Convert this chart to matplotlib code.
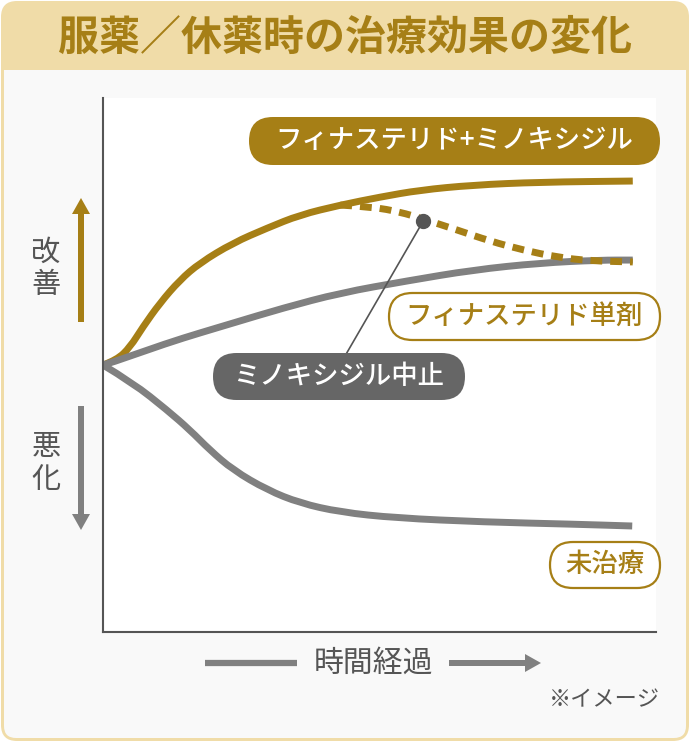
import matplotlib.pyplot as plt
import numpy as np
from matplotlib.patches import FancyBboxPatch, FancyArrow, Rectangle, PathPatch
from matplotlib.path import Path

plt.rcParams['font.family'] = ['Noto Sans CJK JP', 'DejaVu Sans']

GOLD = '#A67F16'
GRAY = '#808080'
DARK = '#666666'
INK = '#555555'
TAN = '#F0DCA8'
PANEL = '#F9F9F9'

# time runs 0..100, effect runs -100..100 (0 = starting condition)
combo_t = [0, 2.5, 4.9, 7.2, 10.3, 13.9, 17.5, 23.5, 29.7, 35.6, 42.9, 50.1,
           57.3, 66.9, 79.0, 95.8]
combo_e = [0, 1.9, 6.7, 14.2, 23.2, 31.8, 38.2, 45.7, 51.3, 56.2, 59.9, 62.9,
           65.5, 67.4, 68.5, 68.9]

stop_t = [42.9, 48.8, 53.7, 57.9, 64.0, 70.0, 75.9, 82.1, 88.1, 95.8]
stop_e = [59.9, 59.2, 57.3, 54.7, 50.6, 46.4, 43.1, 40.4, 39.0, 38.6]

fina_t = [0, 1.3, 11.6, 17.5, 23.5, 32.5, 42.9, 55.0, 66.9, 79.0, 89.9, 95.8]
fina_e = [0, 0.7, 8.2, 12.0, 15.7, 21.3, 27.0, 31.5, 35.6, 38.2, 39.3, 39.3]

none_t = [0, 5.4, 11.6, 15.7, 19.3, 23.5, 29.7, 35.6, 42.9, 53.0, 68.9, 84.8, 95.7]
none_e = [0, -6.7, -16.9, -24.3, -31.8, -39.3, -46.8, -51.7, -55.1, -57.3,
          -58.8, -59.6, -60.3]

stop_mark = (57.9, 53.9)

title = "服薬／休薬時の治療効果の変化"
label_combo = "フィナステリド+ミノキシジル"
label_fina = "フィナステリド単剤"
label_stop = "ミノキシジル中止"
label_none = "未治療"
label_up = "改善"
label_down = "悪化"
label_time = "時間経過"
note = "※イメージ"


def smooth_path(t, e):
    # quadratic bezier through midpoints so the read points draw as a smooth curve
    p = np.column_stack([t, e])
    verts = [p[0]]
    codes = [Path.MOVETO]
    for i in range(1, len(p) - 1):
        verts += [p[i], (p[i] + p[i + 1]) / 2]
        codes += [Path.CURVE3, Path.CURVE3]
    verts.append(p[-1])
    codes.append(Path.LINETO)
    return Path(verts, codes)


fig = plt.figure(figsize=(6.9, 7.42), dpi=100)
fig.patch.set_facecolor('white')

# background layer in pixel coords
bg = fig.add_axes([0, 0, 1, 1])
bg.set_xlim(0, 690)
bg.set_ylim(742, 0)
bg.axis('off')

bg.add_patch(FancyBboxPatch((1, 1), 688, 740, boxstyle="round,pad=0,rounding_size=16",
                            fc=TAN, ec='none'))
bg.add_patch(FancyBboxPatch((4, 70), 682, 668, boxstyle="round,pad=0,rounding_size=12",
                            fc=PANEL, ec='none'))
bg.add_patch(Rectangle((4, 70), 682, 30, fc=PANEL, ec='none'))
bg.text(345, 38, title, color=GOLD, fontsize=29.5, fontweight='bold',
        ha='center', va='center')

# y-axis meaning arrows
bg.add_patch(FancyArrow(81, 322, 0, -124, width=6, head_width=18, head_length=16,
                        length_includes_head=True, color=GOLD, lw=0))
bg.add_patch(FancyArrow(81, 406, 0, 124, width=6, head_width=18, head_length=16,
                        length_includes_head=True, color=GRAY, lw=0))
for i, ch in enumerate(label_up):
    bg.text(46, 253 + i * 32, ch, color=INK, fontsize=21, ha='center', va='center')
for i, ch in enumerate(label_down):
    bg.text(46, 447 + i * 33, ch, color=INK, fontsize=21, ha='center', va='center')

# time arrow
bg.plot([205, 297], [663, 663], color=GRAY, lw=4.5, solid_capstyle='butt')
bg.add_patch(FancyArrow(449, 663, 92, 0, width=6, head_width=18, head_length=16,
                        length_includes_head=True, color=GRAY, lw=0))
bg.text(373, 663, label_time, color=INK, fontsize=21.5, ha='center', va='center')
bg.text(660, 700, note, color=INK, fontsize=16, ha='right', va='center')

# plot area
ax = fig.add_axes([103 / 690, (742 - 632) / 742, 553 / 690, 534 / 742])
ax.set_facecolor('white')
ax.set_xlim(0, 100)
ax.set_ylim(-100, 100)
ax.set_xticks([])
ax.set_yticks([])
for s in ['top', 'right']:
    ax.spines[s].set_visible(False)
for s in ['left', 'bottom']:
    ax.spines[s].set_color(INK)
    ax.spines[s].set_linewidth(1.5)
    ax.spines[s].set_zorder(6)

LW = 5.0
ax.add_patch(PathPatch(smooth_path(combo_t, combo_e), fill=False, ec=GOLD, lw=LW,
                       capstyle='butt', joinstyle='round', zorder=2))
ax.add_patch(PathPatch(smooth_path(none_t, none_e), fill=False, ec=GRAY, lw=LW,
                       capstyle='butt', joinstyle='round', zorder=3))
ax.add_patch(PathPatch(smooth_path(fina_t, fina_e), fill=False, ec=GRAY, lw=LW,
                       capstyle='butt', joinstyle='round', zorder=3))
ax.add_patch(PathPatch(smooth_path(stop_t, stop_e), fill=False, ec=GOLD, lw=LW,
                       linestyle=(0, (1.7, 1.15)), capstyle='butt', zorder=4))

# overlay for labels
top = fig.add_axes([0, 0, 1, 1])
top.set_xlim(0, 690)
top.set_ylim(742, 0)
top.axis('off')
top.patch.set_alpha(0)

ax.annotate('', xy=stop_mark, xycoords='data', xytext=(345, 356), textcoords=top.transData,
            arrowprops=dict(arrowstyle='-', color=INK, lw=1.2, shrinkA=0, shrinkB=0),
            zorder=5)
ax.plot([stop_mark[0]], [stop_mark[1]], 'o', color=INK, ms=10, zorder=5, clip_on=False)


def pill(x0, y0, x1, y1, face, edge, text, tcolor):
    h = y1 - y0
    top.add_patch(FancyBboxPatch((x0, y0), x1 - x0, h,
                                 boxstyle=f"round,pad=0,rounding_size={h / 2}",
                                 fc=face, ec=edge, lw=1.6))
    top.text((x0 + x1) / 2, (y0 + y1) / 2, text, color=tcolor, fontsize=19,
             fontweight='medium', ha='center', va='center')


pill(249, 117, 660, 165, GOLD, 'none', label_combo, 'white')
pill(389, 293, 660, 340, 'white', GOLD, label_fina, GOLD)
pill(213, 353, 465, 400, DARK, 'none', label_stop, 'white')
pill(550, 542, 660, 588, 'white', GOLD, label_none, GOLD)

fig.savefig('out.png', dpi=100)
